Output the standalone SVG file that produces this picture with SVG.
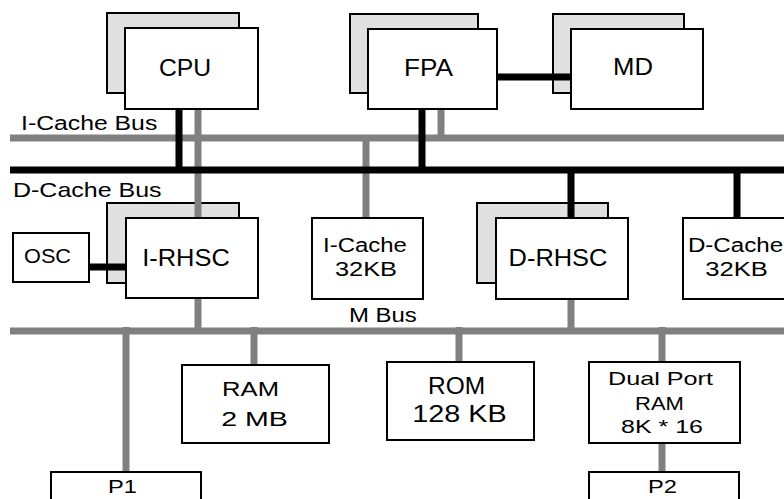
<svg xmlns="http://www.w3.org/2000/svg" width="784" height="499" viewBox="0 0 784 499">
<style>
text{font-family:"Liberation Sans",Arial,Helvetica,sans-serif;fill:#000}
.box{fill:#fff;stroke:#000;stroke-width:2}
.sh{fill:#e0e0e0;stroke:#000;stroke-width:2}
.g{stroke:#808080;stroke-width:7;fill:none}
.b{stroke:#000;stroke-width:7;fill:none}
.big{font-size:24px}
.med{font-size:21px}
.sm{font-size:18.5px}
.c{text-anchor:middle}
</style>
<rect width="784" height="499" fill="#fff"/>
<g id="shadows">
<rect class="sh" x="107" y="13" width="132" height="80"/>
<rect class="sh" x="350" y="14" width="128" height="79"/>
<rect class="sh" x="553" y="14" width="131" height="79"/>
<rect class="sh" x="107" y="203" width="132" height="80"/>
<rect class="sh" x="477" y="203" width="131" height="80"/>
</g>
<g id="connectors">
<line class="g" x1="10" y1="138" x2="784" y2="138"/>
<line class="g" x1="10" y1="331" x2="784" y2="331"/>
<line class="g" x1="198" y1="109" x2="198" y2="218"/>
<line class="g" x1="198" y1="298" x2="198" y2="331"/>
<line class="g" x1="441" y1="109" x2="441" y2="138"/>
<line class="g" x1="366" y1="138" x2="366" y2="218"/>
<line class="g" x1="571" y1="299" x2="571" y2="331"/>
<line class="g" x1="126" y1="327" x2="126" y2="472"/>
<line class="g" x1="254" y1="327" x2="254" y2="365"/>
<line class="g" x1="459" y1="327" x2="459" y2="362"/>
<line class="g" x1="662" y1="327" x2="662" y2="362"/>
<line class="g" x1="662" y1="443" x2="662" y2="472"/>
<line class="b" x1="10" y1="170" x2="784" y2="170"/>
<line class="b" x1="179" y1="109" x2="179" y2="170"/>
<line class="b" x1="422" y1="109" x2="422" y2="170"/>
<line class="b" x1="571" y1="170" x2="571" y2="218"/>
<line class="b" x1="737" y1="170" x2="737" y2="218"/>
<line class="b" x1="497" y1="77" x2="571" y2="77"/>
<line class="b" x1="89" y1="267" x2="126" y2="267"/>
</g>
<g id="cpu"><rect class="box" x="125" y="28" width="133" height="81"/><text class="big c" transform="translate(185,76) scale(1.03,1)">CPU</text></g>
<g id="fpa"><rect class="box" x="368" y="29" width="129" height="80"/><text class="big c" transform="translate(428.5,76) scale(1.09,1)">FPA</text></g>
<g id="md"><rect class="box" x="571" y="29" width="132" height="80"/><text class="big c" transform="translate(633,75) scale(1.07,1)">MD</text></g>
<g id="irhsc"><rect class="box" x="126" y="218" width="132" height="80"/><text class="big c" transform="translate(186,266) scale(1.06,1)">I-RHSC</text></g>
<g id="drhsc"><rect class="box" x="496" y="218" width="132" height="81"/><text class="big c" transform="translate(558,266) scale(1.06,1)">D-RHSC</text></g>
<g id="osc"><rect class="box" x="13" y="233" width="76" height="49"/><text class="c" font-size="20" transform="translate(47.5,263) scale(1.085,1)">OSC</text></g>
<g id="icache"><rect class="box" x="312" y="218" width="111" height="81"/><text class="med c" transform="translate(365,252) scale(1.14,1)">I-Cache</text><text class="med c" transform="translate(366,276) scale(1.21,1)">32KB</text></g>
<g id="dcache"><rect class="box" x="683" y="218" width="111" height="81"/><text class="med c" transform="translate(735.5,252) scale(1.15,1)">D-Cache</text><text class="med c" transform="translate(736.5,276) scale(1.22,1)">32KB</text></g>
<g id="ram"><rect class="box" x="182" y="365" width="147" height="78"/><text class="med c" transform="translate(250.5,396) scale(1.22,1)">RAM</text><text class="med c" transform="translate(254.5,426) scale(1.36,1)">2 MB</text></g>
<g id="rom"><rect class="box" x="387" y="362" width="147" height="78"/><text class="big c" transform="translate(456.5,394) scale(1.02,1)">ROM</text><text class="big c" transform="translate(459.5,422) scale(1.2,1)">128 KB</text></g>
<g id="dpram"><rect class="box" x="589" y="362" width="151" height="81"/><text class="sm c" transform="translate(660.5,385) scale(1.36,1)">Dual Port</text><text class="sm c" transform="translate(659.5,410) scale(1.19,1)">RAM</text><text class="sm c" transform="translate(662,433) scale(1.35,1)">8K * 16</text></g>
<g id="p1"><rect class="box" x="51" y="472" width="150" height="40"/><text class="sm c" transform="translate(122.5,493) scale(1.28,1)">P1</text></g>
<g id="p2"><rect class="box" x="589" y="472" width="150" height="40"/><text class="sm c" transform="translate(662.5,493) scale(1.28,1)">P2</text></g>
<g id="labels">
<text class="med" transform="translate(21,130) scale(1.18,1)">I-Cache Bus</text>
<text class="med" transform="translate(13,197) scale(1.19,1)">D-Cache Bus</text>
<text class="med" transform="translate(349,322) scale(1.14,1)">M Bus</text>
</g>
</svg>
